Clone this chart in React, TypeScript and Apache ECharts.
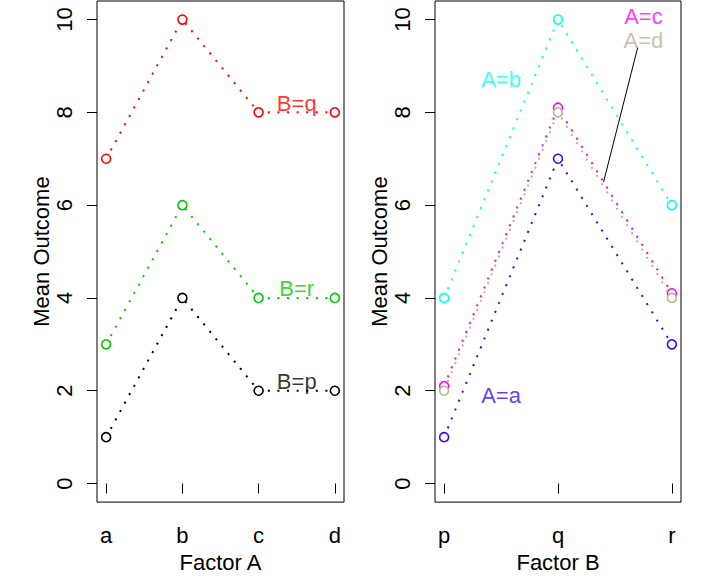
import React, { useEffect, useRef } from "react";
import * as echarts from "echarts";

const factorA = ["a", "b", "c", "d"];
const factorB = ["p", "q", "r"];
const yTicks = [0, 2, 4, 6, 8, 10];

// Left panel: mean outcome by Factor A, one line per level of B
const seriesBNames = ["B=p", "B=q", "B=r"];
const bp = [1, 4, 2, 2];
const bq = [7, 10, 8, 8];
const br = [3, 6, 4, 4];
const seriesBColors = ["#000000", "#FF0000", "#00CD00"];
const labelBPos = [
  [3.5, 2.2],
  [3.5, 8.2],
  [3.5, 4.2],
];

// Right panel: mean outcome by Factor B, one line per level of A
const seriesANames = ["A=a", "A=b", "A=c", "A=d"];
const aa = [1, 7, 3];
const ab = [4, 10, 6];
const ac = [2.1, 8.1, 4.1];
const ad = [2, 8, 4];
const seriesAColors = ["#3A08FF", "#00FFFF", "#FF00FF", "#BDB291"];
const labelAPos = [
  [1.5, 1.9],
  [1.5, 8.7],
  [2.75, 10.06],
  [2.75, 9.55],
];
const leader = [
  [2.7, 9.4],
  [2.4, 6.5],
];

const FONT = "Liberation Sans, Arial, Helvetica, sans-serif";
const FS = 22;

export default function App() {
  const ref = useRef<HTMLDivElement>(null);
  useEffect(() => {
    if (!ref.current) return;
    const chart = echarts.init(ref.current, undefined, { renderer: "svg" });

    const mkLine = (name: string, vals: number[], color: string, gi: number) => ({
      name,
      type: "line",
      xAxisIndex: gi,
      yAxisIndex: gi,
      data: vals.map((v, i) => [i + 1, v]),
      symbol: "circle",
      symbolSize: 9,
      itemStyle: { color: "#ffffff", borderColor: color, borderWidth: 1.6 },
      lineStyle: { color, width: 2, type: [2, 7.6] },
      silent: true,
      z: 2,
    });

    const mkLabels = (names: string[], pos: number[][], colors: string[], gi: number) => ({
      type: "scatter",
      xAxisIndex: gi,
      yAxisIndex: gi,
      symbol: "circle",
      symbolSize: 1,
      itemStyle: { color: "transparent" },
      silent: true,
      z: 5,
      data: names.map((n, i) => ({
        value: pos[i],
        label: {
          show: true,
          position: "inside",
          formatter: n,
          color: colors[i],
          fontSize: FS,
          lineHeight: 20,
          fontFamily: FONT,
        },
      })),
    });

    const xAxisBase = (gi: number, cats: string[], title: string) => ({
      type: "value",
      gridIndex: gi,
      min: 1 - 0.04 * (cats.length - 1),
      max: cats.length + 0.04 * (cats.length - 1),
      name: title,
      nameLocation: "middle",
      nameGap: 47,
      nameTextStyle: { color: "#000", fontSize: FS, fontFamily: FONT },
      axisLine: { show: false },
      splitLine: { show: false },
      axisTick: {
        show: true,
        length: 10,
        customValues: cats.map((_, i) => i + 1),
        lineStyle: { color: "#000", width: 1 },
      },
      axisLabel: {
        show: true,
        margin: 22,
        customValues: cats.map((_, i) => i + 1),
        formatter: (v: number) => cats[Math.round(v) - 1] ?? "",
        color: "#000",
        fontSize: FS,
        fontFamily: FONT,
      },
    });

    const yAxisBase = (gi: number) => ({
      type: "value",
      gridIndex: gi,
      min: -0.4,
      max: 10.4,
      name: "Mean Outcome",
      nameLocation: "middle",
      nameGap: 45,
      nameTextStyle: { color: "#000", fontSize: FS, fontFamily: FONT },
      axisLine: { show: false },
      splitLine: { show: false },
      axisTick: {
        show: true,
        length: 10,
        customValues: yTicks,
        lineStyle: { color: "#000", width: 1 },
      },
      axisLabel: {
        show: true,
        rotate: 90,
        margin: 22,
        customValues: yTicks,
        formatter: (v: number) => String(v),
        color: "#000",
        fontSize: FS,
        fontFamily: FONT,
      },
    });

    const option = {
      animation: false,
      backgroundColor: "#ffffff",
      textStyle: { fontFamily: FONT },
      grid: [
        { left: 97, right: 377, top: 1, bottom: 75, show: true, borderColor: "#000", borderWidth: 1, backgroundColor: "transparent" },
        { left: 435, right: 40, top: 1, bottom: 75, show: true, borderColor: "#000", borderWidth: 1, backgroundColor: "transparent" },
      ],
      xAxis: [xAxisBase(0, factorA, "Factor A"), xAxisBase(1, factorB, "Factor B")],
      yAxis: [yAxisBase(0), yAxisBase(1)],
      series: [
        mkLine(seriesBNames[0], bp, seriesBColors[0], 0),
        mkLine(seriesBNames[1], bq, seriesBColors[1], 0),
        mkLine(seriesBNames[2], br, seriesBColors[2], 0),
        mkLabels(seriesBNames, labelBPos, seriesBColors, 0),
        mkLine(seriesANames[0], aa, seriesAColors[0], 1),
        mkLine(seriesANames[1], ab, seriesAColors[1], 1),
        mkLine(seriesANames[2], ac, seriesAColors[2], 1),
        mkLine(seriesANames[3], ad, seriesAColors[3], 1),
        {
          type: "line",
          xAxisIndex: 1,
          yAxisIndex: 1,
          data: leader,
          symbol: "none",
          silent: true,
          lineStyle: { color: "#000", width: 1, type: "solid" },
          z: 4,
        },
        mkLabels(seriesANames, labelAPos, seriesAColors, 1),
      ],
    };
    chart.setOption(option as any);
    return () => chart.dispose();
  }, []);

  return (
    <div
      ref={ref}
      style={{ position: "fixed", left: 0, top: 0, width: 721, height: 578, background: "#fff" }}
    />
  );
}
